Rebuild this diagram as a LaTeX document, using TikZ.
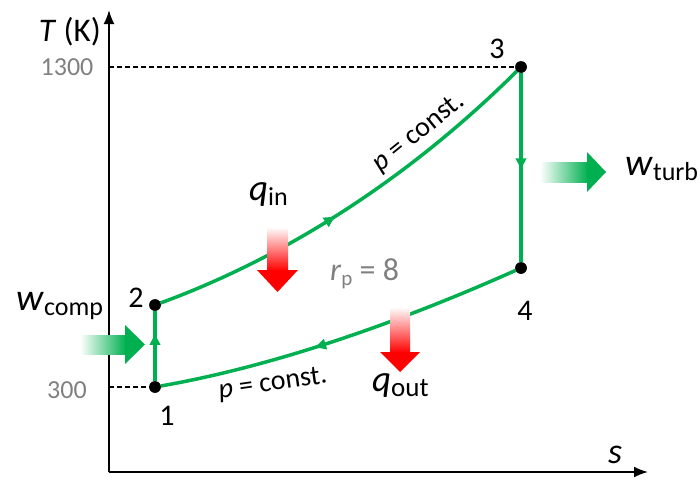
\documentclass[tikz,border=0pt]{standalone}
\usepackage{fontspec}
\setmainfont{Carlito}
\usetikzlibrary{arrows.meta,decorations.markings}
\definecolor{cgreen}{HTML}{00B050}
\definecolor{cgray}{HTML}{808080}
\definecolor{cred}{HTML}{FF0000}
\newcommand{\fsz}[1]{\fontsize{#1}{#1}\selectfont}
\begin{document}
\begin{tikzpicture}[x=1pt,y=-1pt,
  dot/.style={circle,fill=black,inner sep=0pt,minimum size=11.5pt},
  cyc/.style={cgreen,line width=3.5pt},
  lbl/.style={font=\fsz{30},anchor=base,inner sep=0pt},
  tick/.style={font=\fsz{26},text=cgray,anchor=base,inner sep=0pt},
  guide/.style={line width=1.2pt,dash pattern=on 5pt off 3pt},
  axis/.style={line width=1.8pt,-{Latex[length=14pt,width=11pt]}},
  midarrow/.style={postaction={decorate},decoration={markings,
    mark=at position #1 with {\arrow{Latex[length=13pt,width=12pt]}}}},
]
\useasboundingbox (0,0) rectangle (700,479);

% axes
\coordinate (O) at (109,472);
\coordinate (ytop) at (109,10);
\coordinate (xend) at (648,472);
\draw[axis] (O) -- (ytop);
\draw[axis] (O) -- (xend);

% state points
\node[dot] (p1) at (155,387) {};
\node[dot] (p2) at (155,305) {};
\node[dot] (p3) at (521,67) {};
\node[dot] (p4) at (521,268) {};

% guides
\coordinate (g1300) at (109,67);
\coordinate (g300) at (109,387);
\draw[guide] (g1300) -- (p3);
\draw[guide] (g300) -- (p1);

% work arrows
\shade[left color=white, right color=cgreen] (80,335) rectangle (126,354);
\fill[cgreen] (125,325) -- (145,344.5) -- (125,364) -- cycle;
\shade[left color=white, right color=cgreen] (540,162) rectangle (588,182);
\fill[cgreen] (587,152) -- (606,172) -- (587,192) -- cycle;

% cycle
\draw[cyc,midarrow=0.7] (p1) -- (p2);
\draw[cyc,midarrow=0.46] (p2) .. controls (275,261) and (400,187) .. (p3);
\draw[cyc,midarrow=0.52] (p3) -- (p4);
\draw[cyc,midarrow=0.58] (p4) .. controls (400,322) and (275,366) .. (p1);

% heat arrows on top
\shade[top color=white, bottom color=cred] (267,227) rectangle (288,271);
\fill[cred] (257,270) -- (277.5,292) -- (298,270) -- cycle;
\shade[top color=white, bottom color=cred] (390,307) rectangle (410,353);
\fill[cred] (380,352) -- (400,372) -- (420,352) -- cycle;

% dots on top
\fill (p1) circle (5.75pt);
\fill (p2) circle (5.75pt);
\fill (p3) circle (5.75pt);
\fill (p4) circle (5.75pt);

% labels
\node[lbl] (l1) at (167,425) {1};
\node[lbl] (l2) at (136,307) {2};
\node[lbl] (l3) at (497,58) {3};
\node[lbl] (l4) at (525,320) {4};
\node[tick] (t1300) at (67,75) {1300};
\node[tick] (t300) at (67,398) {300};
\node[font=\fsz{33},anchor=base east,inner sep=0pt] (Tlab) at (101,41) {\textit{T}~(K)};
\node[font=\fsz{36},anchor=base,inner sep=0pt] (slab) at (615,463) {\textit{s}};
\node[anchor=base west,inner sep=0pt] (qin) at (249,200) {\fsz{37}\textit{q}\raisebox{-5pt}{\fsz{26}in}};
\node[anchor=base west,inner sep=0pt] (qout) at (372,391) {\fsz{37}\textit{q}\raisebox{-5pt}{\fsz{27}out}};
\node[anchor=base west,inner sep=0pt] (wcomp) at (16,310) {\fsz{38}\textit{w}\raisebox{-5pt}{\fsz{26}comp}};
\node[anchor=base west,inner sep=0pt] (wturb) at (625,175) {\fsz{38}\textit{w}\raisebox{-5pt}{\fsz{26}turb}};
\node[anchor=base west,inner sep=0pt,text=cgray] (rp) at (330,280) {\fsz{32}\textit{r}\raisebox{-5pt}{\fsz{21}p}~=~8};
\node[font=\fsz{28},rotate=39] (pc1) at (419,133) {\textit{p} = const.};
\node[font=\fsz{28},rotate=8] (pc2) at (273,384) {\textit{p} = const.};
\end{tikzpicture}
\end{document}
